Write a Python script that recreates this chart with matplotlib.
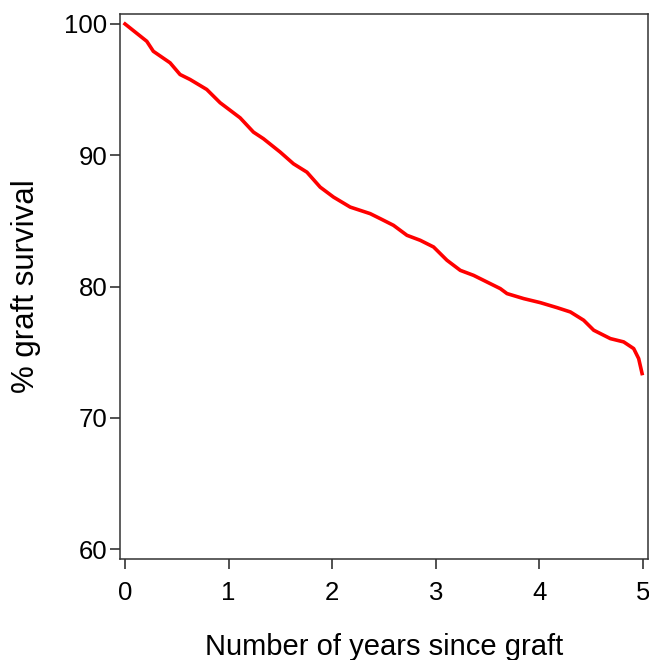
import matplotlib
matplotlib.use("Agg")
import matplotlib.pyplot as plt

plt.rcParams['font.family'] = ['Liberation Sans', 'DejaVu Sans']

# Kaplan-Meier style graft survival
years = [0.0, 0.21, 0.273, 0.435, 0.531, 0.628, 0.789, 0.918, 1.111, 1.240,
         1.336, 1.498, 1.626, 1.756, 1.884, 2.013, 2.174, 2.367, 2.464, 2.592,
         2.722, 2.850, 2.979, 3.108, 3.237, 3.365, 3.495, 3.623, 3.688, 3.848,
         4.010, 4.171, 4.300, 4.428, 4.525, 4.686, 4.814, 4.911, 4.959, 4.992]
survival = [100.0, 98.68, 97.92, 97.04, 96.15, 95.77, 95.01, 94.0, 92.85, 91.76,
            91.26, 90.24, 89.35, 88.71, 87.57, 86.81, 86.05, 85.55, 85.17, 84.66,
            83.90, 83.52, 83.01, 82.0, 81.23, 80.85, 80.34, 79.84, 79.46, 79.08,
            78.77, 78.39, 78.06, 77.43, 76.67, 76.03, 75.78, 75.27, 74.51, 73.37]
xticks = [0, 1, 2, 3, 4, 5]
yticks = [60, 70, 80, 90, 100]

fig = plt.figure(figsize=(6.49, 6.60), dpi=100)
ax = fig.add_axes([0.185, 0.153, 0.8136, 0.8258])

ax.plot(years, survival, color='#ff0000', linewidth=2.6)

ax.set_xlim(-0.048, 5.05)
ax.set_ylim(59.24, 100.76)
ax.set_xticks(xticks)
ax.set_yticks(yticks)
ax.tick_params(axis='both', labelsize=18.5, length=7, width=1.2, color='#333333')
ax.tick_params(axis='x', pad=9)
ax.tick_params(axis='y', pad=2)

for s in ax.spines.values():
    s.set_color('#333333')
    s.set_linewidth(1.1)

ax.set_xlabel('Number of years since graft', fontsize=21, labelpad=20)
ax.set_ylabel('% graft survival', fontsize=22.5, labelpad=17)

fig.savefig('out.png', dpi=100)
